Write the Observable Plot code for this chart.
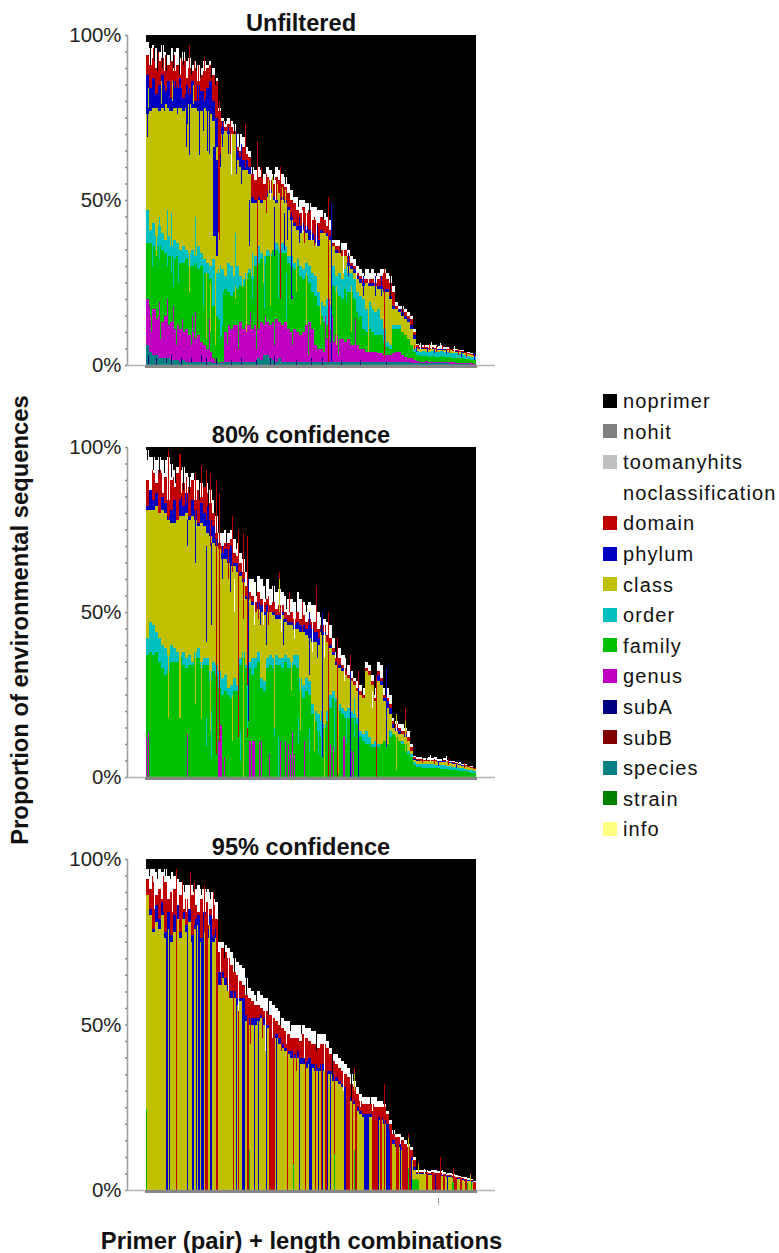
<!DOCTYPE html>
<html><head><meta charset="utf-8">
<script src="https://cdn.jsdelivr.net/npm/d3@7"></script>
<script src="https://cdn.jsdelivr.net/npm/@observablehq/plot@0.6"></script>
<style>
html,body{margin:0;background:#fff;}
#page{position:relative;width:779px;height:1253px;overflow:hidden;font-family:"Liberation Sans",Arial,sans-serif;color:#111;}
.abs{position:absolute;white-space:nowrap;}
.ttl{font-weight:bold;font-size:23.6px;line-height:24px;transform:translateX(-50%);}
.lab{font-weight:bold;font-size:23.8px;line-height:24px;}
.leg{font-size:20px;letter-spacing:1.12px;line-height:24px;}
.sw{position:absolute;width:14px;height:14px;}
svg{overflow:visible;font-family:"Liberation Sans",Arial,sans-serif;}
</style></head><body><div id="page"></div>
<script>
const legendNames=["noprimer","nohit","toomanyhits","noclassification","domain","phylum","class","order","family","genus","subA","subB","species","strain","info"];
const legendColors=["#000000","#808080","#c0c0c0","#ffffff","#c00000","#0000c0","#c0c000","#00c0c0","#00c000","#c000c0","#000080","#800000","#008080","#008000","#ffff80"];
const yTicks=[0,50,100];
const yMinor=[5,10,15,20,25,30,35,40,45,55,60,65,70,75,80,85,90,95,0,50,100];

// --- Unfiltered: top of each level (%), one value per 3px group of bars
const noclassTop1=[98,96,97,96,95,97,95,94,96,95,96,93,95,92,93,91,92,91,90,92,91,92,90,87,78,75,74,75,74,73,70,70,69,66,65,60,59,60,59,58,60,59,58,60,59,58,57,55,53,51,51,50,50,49,49,48,48,47,47,46,45,44,38,38,38,37,37,35,33,32,30,29,28,29,28,29,28,28,29,29,28,27,24,19,18,18,17,16,15,11,6.5,6,6,6,6,6.2,6,5.8,6,5.5,5.5,5,5,5,4.5,4.5,4,4,3.5,3];
const domainTop1=[94,91,93,90,92,93,89,91,92,89,91,88,92,87,90,89,90,86,88,89,90,91,88,86,77,74,72,73,72,71,66,65,66,64,63,58,56,57,57,55,57,56,55,57,56,55,54,52,50,49,47,46,48,46,47,44,44,43,45,44,42,41,37,36,36,35,35,33,31,30,28,27,26,26,26,26,25,26,27,28,26,25,22,18,17,17,16,15,14,10,6,5.5,5.5,5.5,5.3,5.5,5.3,5,5,5,5,4.7,4.6,4.4,4.2,4.1,3.8,3.6,3.2,2.9];
const phylumTop1=[88,84,87,82,85,88,83,86,81,86,84,87,81,85,82,86,80,85,83,81,84,86,80,75,64,72,71,71,70,69,65,63,62,62,60,51,50,51,50,50,52,53,51,50,52,51,50,48,45,43,42,42,43,42,41,40,39,38,41,40,40,39,36,35,34,33,33,31,30,29,27,26,25,25,25,25,24,24,24,23,23,21,18,17,17,16,15,14,12,9,5.5,5.2,5.2,5.2,5,5.2,5,4.8,4.8,4.8,4.6,4.5,4.3,4.2,4,3.9,3.6,3.3,3,2.8];
const classTop1=[76,77,78,78,77,78,79,78,77,78,78,78,77,78,79,78,78,77,77,78,77,76,74,66,60,70,71,70,70,70,62,60,59,59,58,49,49,50,49,50,51,52,50,49,52,50,49,47,44,42,41,40,41,40,38,38,37,36,40,40,39,38,36,34,34,33,33,30,29,28,26,25,24,25,24,24,24,23,23,22,22,20,17,17,16,15,14,13,11,8,5.2,5,5,5,4.8,5,4.8,4.6,4.6,4.6,4.5,4.4,4.2,4,3.8,3.7,3.5,3.2,2.9,2.7];
const orderTop1=[47,41,43,39,42,40,38,39,36,38,37,35,36,35,34,35,33,36,34,32,31,30,32,28,24,29,27,31,30,27,30,27,26,28,29,27,33,36,34,33,35,34,32,37,35,37,36,33,33,31,32,30,29,31,30,28,27,22,19,18,20,18,30,27,28,26,29,28,28,26,22,21,20,17,19,17,16,17,14,11,7,6,12,12,12,10,8,7,6,5,4.2,4,4.2,4,4,4.2,4,4,4.1,3.9,3.8,3.7,3.6,3.5,3.4,3.2,3,2.8,2.5,2.3];
const familyTop1=[37,37,36,35,36,35,34,33,33,32,33,31,31,32,30,30,31,29,30,28,28,26,18,15,16,22,23,22,21,22,23,24,24,26,28,26,30,31,32,31,33,33,35,35,34,34,34,31,30,29,30,27,26,27,25,22,21,18,15,13,12,11,24,22,21,20,23,22,22,20,16,15,11,10,11,10,9,9,9,7,5.5,5,11,11,11,10,9,8,6,4,3,2.8,2.6,2.7,2.5,2.6,2.5,2.5,2.6,2.3,2.4,2.3,2.2,2.2,2.1,2,1.9,1.8,1.6,1.4];
const genusTop1=[20,15,17,14,15,13,15,12,13,11,12,11,10,11,9,10,8,9,7,6,5,4,2,1,1,1,10,12,11,12,12,13,11,12,12,11,12,11,13,12,13,12,13,14,13,12,13,11,10,11,10,9,10,12,13,11,6,5,5,4,8,7,7,9,8,8,7,8,6,6,6,5,5,4,4,4,4,3.5,3.5,3,3,3,3.5,4,4,3,2.5,2,2,1.5,1.2,1,1,1.1,1,1,1,1,1,.9,.9,.8,.8,.7,.7,.6,.6,.5,.5,.4];
const speciesTop1=[6,4,3,3,2,2,2,2,1.5,1.5,1.5,1,1.5,1,1,1,1,1,1,1,1,1,.5,.5,.5,.5,1,1,1,1,1,1,1,1,1,1,1,2,1.5,3,3,2,1.5,1,2,1,1,1,1,1,1,1,1,1,1,1,1,1,1,1,1,1,1,1,1,1,1,1,1,1,1,1,1,1,1,1,1,1,1,1,1,1,1,1,1,1,1,.8,.6,.6,.6,.6,.6,.6,.6,.6,.6,.5,.5,.5,.5,.4,.4,.4,.4,.3,.3,.3];
const noprimerSpikes1=[[4,91,100],[8,92,100],[11,89,100],[16,90,100],[20,89,100],[24,92,100],[27,90,100],[33,88,100],[37,91,100],[45,88,100],[50,89,100],[54,87,100],[65,87,100],[69,85,100],[79,73,100],[88,70,100],[93,66,100],[106,58,100],[116,57,100],[127,56,100],[139,55,100],[152,48,100],[163,46,100],[177,44,100],[194,34,100],[206,35,100],[218,27,100],[230,27,100],[244,20,100],[256,15,100],[275,5.5,100],[291,5.4,100],[306,4.6,100],[318,4,100]];
const phylumSpikes1=[[1,69,85],[13,77,84],[18,77,85],[23,77,85],[31,76,85],[40,66,84],[41,73,84],[43,63.5,84],[53,63.5,83],[57,71,83],[61,65,84],[63,64,84],[67,39,66],[68,39,66],[69,39,66],[70,33,62],[71,33,62],[76,66,74],[82,64,72],[90,58,70],[95,55,67],[103,36,50],[128,33,48],[138,35,46],[141,38,48],[145,20,46],[153,37,45],[171,36,42],[185,1,49],[202,27,34],[217,21,27],[229,21,27],[235,21,27],[270,4,5.3],[281,3.8,5],[288,3.5,4.8],[300,3.2,4.5],[315,2.4,3.8],[328,1.5,3.3]];
const domainSpikes1=[[7,88,96],[12,86,95],[19,85,94],[28,84,94],[35,84,93],[39,82,93],[43,85,97],[48,82,92],[52,80,91],[58,80,93],[72,40,72],[73,38,80],[84,64,74],[99,60,73],[111,11,68],[115,50,60],[120,46,58],[134,20,60],[158,37,47],[168,36,45],[182,1,51],[238,2,29],[268,5,6.2],[272,4.8,6.2],[278,4.7,6],[283,4.5,6.5],[290,4,5.8],[296,4.2,6],[303,3.5,5.5],[312,3,4.8],[320,2.5,4]];
const noclassSpikes1=[[85,58,70],[124,50,57],[129,50,56],[156,40,47],[160,41,46],[165,38,45],[170,36,44],[197,28,35],[210,26,30],[222,25,29],[274,5,6.8],[285,5,7],[294,5,6.8],[308,4,5.8]];
const classSpikes1=[[2,78,84],[10,33,40],[15,79,86],[26,80,86],[43,22,34],[47,79,85],[60,8,28],[64,10,25],[69,6,28],[89,20,38],[96,24,33],[100,10,34],[117,25,34],[122,50,56],[124,18,34],[126,50,57],[131,50,55],[136,48,54],[139,48,53],[150,22,32],[160,12,28],[174,12,30],[190,6,24],[205,10,24],[222,4,20]];
const orderSpikes1=[[13,32,45],[21,30,47],[25,28,46],[49,30,45],[89,24,40],[6,30,37],[27,24,34],[32,25,34],[57,18,31],[72,9,29],[73,9,28],[74,8,30],[75,9,27],[76,12,28],[106,20,34],[118,17,32],[132,20,36],[140,14,28],[200,19,30],[212,14,22],[225,10,18]];
const familySpikes1=[[72,.5,14],[73,.5,14],[5,10,20],[14,8,18],[30,6,18],[45,6,14],[81,6,16],[92,5,16],[110,5,18],[128,6,20],[146,6,20],[162,3,12],[192,3,10]];
const genusSpikes1=[[3,5,18],[9,8,17],[13,10,19],[21,10,20],[27,8,18],[36,5,14],[46,5,15],[49,5,16],[63,2,14],[104,5,16],[119,5,15],[146,6,21],[183,2,20],[179,2,15],[186,2,15],[209,2,14]];
const subASpikes1=[[2,.3,3],[10,0,2],[20,.5,2.5],[25,0,3],[35,0,2],[45,.5,2],[55,.5,3],[60,0,2],[70,0,2],[85,0,1.5],[95,0,2],[110,0,1.5],[124,0,2],[128,0,2.5],[150,0,1.5],[165,0,2],[176,0,2],[195,0,1.5],[214,0,1.5],[240,0,1.2]];

// --- 80% confidence
const noclassTop2=[99,97,97,96,97,96,96,97,95,93,94,93,94,92,91,92,90,90,89,88,89,87,84,79,74,74,75,74,75,72,71,68,66,62,60,60,59,61,60,58,60,57,58,56,57,56,55,54,54,53,56,54,53,52,53,52,52,50,48.5,48,47,46,42,38,39,37,36,34,32,30,29,28,27,35,34,31,27,35,34,27,27,25,18,17,16,16,15,14,10,6.5,6,6,5.8,5.8,6,5.8,6,5.5,5.5,5.8,5.2,5,4.8,4.6,4.4,4,3.8,3.4,3.2,2.8];
const domainTop2=[90,87,92,89,93,86,91,84,90,88,92,86,89,85,88,90,84,87,85,88,86,83,80,74,71,70,71,71,72,68,67,65,62,58,56,55,53,56,54,53,54,52,53,51,52,52,50,49,50,48,50,48,49,47,48,47,47,45,46,46,43,42,39,36,36,34,33,31,30,29,27,26,25,33,32,29,24,32,30,25,24,22,17,16,15,14,14,12,9,6,5.5,5.4,5.2,5.2,5.3,5.2,5.3,5,5,5.1,4.8,4.6,4.4,4.2,4,3.7,3.5,3.2,3,2.6];
const phylumTop2=[82,87,84,86,80,85,83,79,81,84,78,85,82,86,79,84,81,77,83,80,82,78,76,72,69,68,69,69,70,65,65,62,60,55,54,53,50,53,52,50,52,50,50,49,49,50,48,47,47,46,47,46,46,45,46,45,44,42,45,44,41,40,38,35,34,33,31,30,29,28,26,25,24,32,31,28,23,31,29,24,23,21,16,15,14,13,13,11,8,5.5,5.2,5,5,5,5,5,5,4.8,4.8,4.8,4.6,4.4,4.2,4,3.8,3.5,3.3,3,2.8,2.4];
const classTop2=[81,81,81,82,80,81,80,78,77,77,78,79,79,80,78,79,78,76,77,76,74,73,71,70,69,66,66,65,64,64,62,61,59,54,54,52,50,51,50,49,50,50,49,48,48,49,47,46,46,45,45,44,44,43,42,41,41,40,44,43,41,39,37,34,33,32,31,30,29,28,26,25,24,32,31,28,23,29,28,23,21,19,15,14,13,13,12,11,8,5.2,5,4.8,4.8,4.7,4.8,4.7,4.8,4.6,4.6,4.5,4.4,4.2,4,3.8,3.6,3.4,3.2,2.9,2.6,2.3];
const orderTop2=[42,47,46,44,42,40,39,37,40,39,38,37,38,36,37,35,38,39,35,36,36,32,35,34,32,30,31,27,28,30,28,36,38,34,35,36,36,38,30,29,36,37,36,37,36,36,37,36,35,37,37,30,28,30,29,22,20,19,17,16,20,25,26,24,22,21,20,21,20,19,18,14,13,14,12,10,11,10,10,10,9,14,12,12,11,11,10,8,7,4.5,4,4,3.8,3.8,3.8,3.8,3.6,3.5,3.5,3.5,3.4,3.2,3,3,2.8,2.6,2.5,2.2,2,1.8];
const familyTop2=[37,38,37,38,35,33,31,32,35,35,35,36,34,33,34,34,36,36,33,34,34,29,32,31,27,25,26,25,24,26,26,34,36,33,33,31,33,35,27,26,33,34,33,34,34,33,35,33,33,34,33,26,24,26,25,19,17,14,12,15,17,21,24,23,20,19,18,18,18,18,16,12,11,10,10,9,9,9,10,11,10,12,13,12,11,10,10,7,6,3.5,3,3,2.8,2.8,2.8,2.7,2.7,2.6,2.5,2.5,2.3,2.2,2.1,2,1.9,1.8,1.7,1.5,1.3,1.2];
const noprimerSpikes2=[[1,96,100],[3,97,100],[7,93,100],[13,92,100],[18,92,100],[25,91,100],[29,89,100],[37,87,100],[43,86,100],[53,84,100],[62,82,100],[68,80,100],[80,70,100],[90,69,100],[96,66,100],[110,55,100],[119,54,100],[127,53,100],[140,51,100],[150,50,100],[160,50,100],[175,43,100],[190,36,100],[200,32,100],[216,25,100],[228,25,100],[239,25,100],[248,15,100],[258,15,100],[280,5.2,100],[296,5,100],[312,4.2,100]];
const domainSpikes2=[[6,86,93],[15,85,92],[22,78,99],[27,84,91],[33,84,98],[34,84,98],[40,83,91],[49,78,92],[55,85,94.5],[60,78,93],[64,70,92],[70,7,90],[73,7,86],[82,60,70],[86,62,79],[92,12,75],[97,48,74],[101,12,73],[112,48,56],[122,46,55],[133,60,62],[143,50,56],[156,44,53],[170,45,58],[182,0,50],[191,0,42],[204,32,37],[212,27,32],[230,0,31],[259,17,21],[276,4.3,5.8],[288,3.9,5.6],[302,3.6,5.4],[318,2.8,4.2]];
const noclassSpikes2=[[88,50,60],[108,46,58],[117,46,56],[135,44,54],[148,42,52],[166,38,48],[178,36,46],[198,29,37],[226,21,26],[250,14,16],[284,5,6.8],[300,4.4,6.4]];
const phylumSpikes2=[[41,70,78],[49,65,78],[60,41,70],[65,46,71],[76,60,70],[84,56,66],[102,17,60],[114,46,52],[120,40,50],[137,40,48],[163,31,50],[171,36,44],[176,6,50],[204,0,32],[212,0,27],[240,9,33],[292,3.4,4.8],[310,2.8,4]];
const classSpikes2=[[22,18,40],[33,18,39],[34,18,39],[49,22,38],[55,18,36],[64,14,35],[86,11,25],[97,0,47],[128,15,38],[133,50,60],[145,26,40],[154,14,30],[168,8,30],[178,0,30],[192,1,24],[250,2,19],[259,8,17]];
const orderSpikes2=[[60,9,18],[65,6,20],[94,5,14],[101,15,28],[128,12,15],[132,0,12],[152,10,18],[163,8,15],[172,7,19],[175,6,20],[188,8,24],[200,10,18],[208,12,24]];
const genusSpikes2=[[0,0,12],[2,0,13.6],[41,0,13],[72,0,11],[73,0,11],[74,0,15.7],[75,0,15.7],[78,0,6],[103,0,11],[104,0,11],[106,0,11],[107,0,11],[108,0,11],[113,0,11],[115,0,11],[123,0,7],[134,0,11],[139,0,11],[142,0,10],[144,0,7],[146,0,13.6],[148,0,7],[158,0,11],[184,0,10],[187,0,9],[197,0,12],[198,0,12],[205,0,8],[207,0,8]];

// --- 95% confidence
const noclassTop3=[97,97,97,96,97,96,97,95,96,95,94,93,92,92,92,92,91,92,91,91,91,90,88,87,75,75,74,73,72,70,69,68,67,64,61,60,59,60,59,58,58,57,56,55,54,52,51,51,50,50,50,50,50,49,49,48,48,47,47,47,45,43,41,41,40,39,38,37,35,33,31,29,28,28,28,28,28,27,27,26,24,21,18,17,17,16,15,14,13,10,6,6,6,6,5.8,6,6,5.8,5.8,5.5,5,5,4.8,4.6,4.2,4,3.8,3.5,3.2,2.8];
const domainTop3=[94,91,93,89,91,88,93,88,90,91,86,89,85,88,84,89,86,84,88,83,87,85,86,82,72,73,72,70,68,66,65,63,62,59,58,57,56,56,55,54,54,53,52,51,50,49,48,47,46,46,46,45,47,46,45,44,44,43,44,44,43,41,39,38,37,36,35,34,32,31,29,27,26,26,26,26,25,25,25,25,23,20,17,16,16,15,14,13,12,9,5.4,5.4,5.4,5.4,5.2,5.4,5.2,5,5,4.8,4.6,4.4,4.2,4,3.8,3.6,3.4,3.1,2.9,2.5];
const phylumTop3=[89,85,79,86,82,87,78,84,77,83,86,78,84,80,85,77,82,83,76,84,79,83,77,79,66,66,64,62,60,60,58,58,58,53,52,52,52,52,53,52,50,50,48,47,46,44,43,42,42,41,42,40,40,39,40,38,38,37,38,38,36,36,35,34,33,32,31,30,28,27,25,24,23,23,23,23,22,22,22,21,20,18,15,14,14,13,12,11,10,7,5,5,5,5,4.8,4.9,4.7,4.6,4.5,4.4,4.2,4.1,4,3.7,3.5,3.3,3.1,2.9,2.6,2.3];
const classTop3=[89,83,78,81,79,83,76,79,75,78,82,76,82,78,81,75,79,80,75,80,76,80,75,76,62,64,62,60,58,58,56,57,56,51,50,50,50,51,52,50,49,49,47,46,44,43,42,41,40,40,40,38,38,37,38,37,36,36,36,36,35,35,33,33,32,31,30,29,27,26,24,23,22,22,22,22,22,21,21,20,19,17,14,13,13,12,11,10,9,6,4.8,4.8,4.8,4.8,4.6,4.6,4.4,4.4,4.2,4.1,4,3.8,3.6,3.4,3.2,3,2.8,2.6,2.4,2.1];
const blueStripes3=[20,21,23,41,46,47,50,52,53,55,56,57,64,65,90,96,97,98,108,112,120,130,153,163,164,165,172,181,176,184,198,199,218,219,220,221,222,232,240,241,242,243,254,265,289,301];
const redStripes3=[30,59,60,61,70,71,87,92,101,102,123,124,125,126,127,128,141,147,159,169,175,179,180,181,188,200,201,202,203,206,209,210,226,227,228,229,230,231,234,235,238,244,245,250,251,252,256,257,258,259,260,261,263,264,280,281,286,287,288,290,291,292,293,297,298,308,309,310,314,315,319,320,327,328,329];
const familySpikes3=[[0,0,24.5],[103,0,12],[147,0,8],[188,0,11],[208,0,12],[262,0,6.6],[266,0,3],[267,0,3.4],[268,0,3],[269,0,3.4],[270,0,3.2],[271,0,3],[272,0,3],[306,0,2.5],[307,0,2.5],[321,0,2],[325,0,2.5]];
const classSpikes3=[[208,30,35],[262,8,15.7],[272,3,7.9],[324,0,4.4]];
const domainSpikes3=[[6,88,95],[17,84,95],[30,85,97],[36,82,93],[44,85,96],[48,80,93],[58,78,92],[67,76,90],[75,62,72],[83,58,68],[104,44,56],[116,46,54],[135,42,48],[150,36,46],[208,35,37],[238,22,32],[262,15.7,17],[272,7.9,8.5],[294,0,10],[307,2.5,6.6],[324,4.4,5]];
const noclassSpikes3=[[8,85,95],[26,84,93],[40,84,92],[62,80,91],[66,82,90],[74,66,74],[82,60,70],[92,54,66],[119,42,58],[126,46,56],[140,44,50],[158,40,47],[178,36,44],[197,30,36],[214,25,28],[226,24,27],[254,14,16],[278,4.8,6.2],[296,4.4,6]];
const noprimerSpikes3=[[3,95,100],[11,94,100],[19,95,100],[24,94,100],[33,93,100],[38,90,100],[47,90,100],[55,89,100],[60,90,100],[64,88,100],[78,70,100],[88,66,100],[100,59,100],[110,57,100],[122,53,100],[134,50,100],[144,48,100],[155,47,100],[170,42,100],[186,34,100],[205,27,100],[224,26,100],[247,17,100],[280,5.2,100],[300,4.7,100],[315,3.8,100]];

const levels=["species","genus","family","order","class","phylum","domain","noclassification","noprimer"];
const groupWidth=3, fullWidth=330;

function panel(title,yTop,yBottom,tops,spikes,stripes,speck){
  const rows=[];
  const n=tops.noclassification.length;
  for(let i=0;i<n;i++){
    let prev=0;
    for(const lev of levels){
      const arr=lev==="noprimer"?null:tops[lev];
      if(lev!=="noprimer"&&!arr) continue;
      const v=arr?arr[i]:100;
      if(v>prev){rows.push({a:i*groupWidth,b:(i+1)*groupWidth,lo:prev,hi:v,level:lev});prev=v;}
    }
  }
  const sp=[];
  for(const [lev,list] of spikes) for(const [x,lo,hi] of list) sp.push({a:x,b:x+1,lo,hi,level:lev});
  if(stripes){
    for(const x of stripes.red){const i=Math.floor(x/groupWidth);sp.push({a:x,b:x+1,lo:0,hi:tops.domain[i],level:"domain"});}
    for(const x of stripes.blue){const i=Math.floor(x/groupWidth);sp.push({a:x,b:x+1,lo:0,hi:tops.phylum[i],level:"phylum"});}
  }
  // paint the full-height stripes first, then the narrow readings over them
  sp.sort((p,q)=>(q.hi-q.lo)-(p.hi-p.lo));
  const opts={x1:"a",x2:"b",y1:"lo",y2:"hi",fill:"level",shapeRendering:"crispEdges"};
  const marks=[
    Plot.rect(rows,opts),
    Plot.rect(sp,opts),
    Plot.ruleY([0],{x1:-19,x2:349,stroke:"#b4b4b4",strokeWidth:1.6}),
    Plot.ruleY([0],{x1:-1,x2:331,stroke:"#868686",strokeWidth:3,dy:1}),
    Plot.ruleX([-19],{y1:0,y2:100,stroke:"#a0a0a0",strokeWidth:1.6}),
    Plot.ruleY(yMinor,{x1:-21,x2:-19,stroke:"#8c8c8c",strokeWidth:1.5}),
    Plot.axisY({ticks:yTicks,tickFormat:d=>d+"%",tickSize:0,tickPadding:6,fontSize:20.4,label:null,fill:"#222"})
  ];
  if(speck) marks.push(Plot.ruleX([speck.x],{y1:speck.lo,y2:speck.hi,stroke:"#777",strokeWidth:1,strokeDasharray:"2 1"}));
  const top=yTop-6, h=yBottom-yTop+26;
  const svg=Plot.plot({
    width:500,height:h,marginLeft:127,marginRight:5,marginTop:6,marginBottom:20,
    style:{background:"transparent"},
    x:{domain:[-19,349],range:[127,495],axis:null},
    y:{domain:[0,100],range:[yBottom-top,yTop-top],axis:null},
    color:{domain:legendNames,range:legendColors},
    marks
  });
  const d=document.createElement("div");d.className="abs";d.style.left="0";d.style.top=top+"px";d.appendChild(svg);
  page.appendChild(d);
  const t=document.createElement("div");t.className="abs ttl";t.textContent=title;t.style.left="301px";t.style.top=(yTop-24)+"px";
  page.appendChild(t);
}
const page=document.getElementById("page");
panel("Unfiltered",35,365,
  {species:speciesTop1,genus:genusTop1,family:familyTop1,order:orderTop1,class:classTop1,phylum:phylumTop1,domain:domainTop1,noclassification:noclassTop1},
  [["noprimer",noprimerSpikes1],["domain",domainSpikes1],["phylum",phylumSpikes1],["noclassification",noclassSpikes1],["class",classSpikes1],["order",orderSpikes1],["family",familySpikes1],["genus",genusSpikes1],["subA",subASpikes1]]);
panel("80% confidence",447,777,
  {family:familyTop2,order:orderTop2,class:classTop2,phylum:phylumTop2,domain:domainTop2,noclassification:noclassTop2},
  [["noprimer",noprimerSpikes2],["domain",domainSpikes2],["noclassification",noclassSpikes2],["phylum",phylumSpikes2],["class",classSpikes2],["order",orderSpikes2],["genus",genusSpikes2]]);
panel("95% confidence",859,1190,
  {class:classTop3,phylum:phylumTop3,domain:domainTop3,noclassification:noclassTop3},
  [["noprimer",noprimerSpikes3],["family",familySpikes3],["class",classSpikes3],["domain",domainSpikes3],["noclassification",noclassSpikes3]],
  {red:redStripes3,blue:blueStripes3},{x:292,lo:-2.5,hi:-4.6});

legendNames.forEach((name,i)=>{
  const y=401+i*30.6;
  const s=document.createElement("div");s.className="sw";s.style.left="603px";s.style.top=(y-7.5)+"px";s.style.background=legendColors[i];page.appendChild(s);
  const l=document.createElement("div");l.className="abs leg";l.style.left="623px";l.style.top=(y-12)+"px";l.textContent=name;page.appendChild(l);
});
const yl=document.createElement("div");yl.className="abs lab";yl.textContent="Proportion of environmental sequences";
yl.style.left="20px";yl.style.top="620px";yl.style.transform="translate(-50%,-50%) rotate(-90deg)";page.appendChild(yl);
const xl=document.createElement("div");xl.className="abs lab";xl.textContent="Primer (pair) + length combinations";
xl.style.left="301.5px";xl.style.top="1229px";xl.style.transform="translateX(-50%)";page.appendChild(xl);
</script></body></html>
